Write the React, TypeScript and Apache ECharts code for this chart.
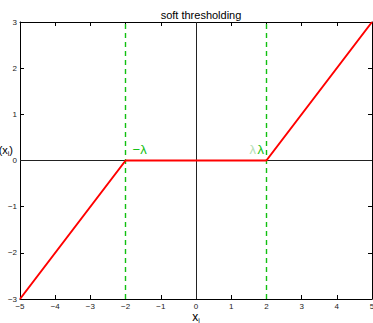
import React, { useEffect, useRef } from "react";
import * as echarts from "echarts";

const xTicks = [-5, -4, -3, -2, -1, 0, 1, 2, 3, 4, 5];
const yTicks = [-3, -2, -1, 0, 1, 2, 3];
const softX = [-5, -2, 2, 5];
const softY = [-3, 0, 0, 3];
const lambdaLines = [-2, 2];
const titleText = "soft thresholding";

const fmt = (v: number) => (v < 0 ? "\u2212" + Math.abs(v) : String(v));

export default function App() {
  const ref = useRef<HTMLDivElement>(null);
  useEffect(() => {
    if (!ref.current) return;
    const chart = echarts.init(ref.current, null, { renderer: "svg" });
    const font = "Liberation Sans, Arial, sans-serif";
    const tickLabel = { fontSize: 8, color: "#222", fontFamily: font };
    const baseX = {
      type: "value" as const,
      min: xTicks[0],
      max: xTicks[xTicks.length - 1],
      interval: 1,
      splitLine: { show: false },
      axisLine: { show: true, onZero: false, lineStyle: { color: "#000", width: 1 } },
      axisTick: { show: true, inside: true, length: 4, lineStyle: { color: "#000" } },
    };
    const baseY = {
      type: "value" as const,
      min: yTicks[0],
      max: yTicks[yTicks.length - 1],
      interval: 1,
      splitLine: { show: false },
      axisLine: { show: true, onZero: false, lineStyle: { color: "#000", width: 1 } },
      axisTick: { show: true, inside: true, length: 4, lineStyle: { color: "#000" } },
    };
    const green = "#10c010";
    const dashStyle = { color: green, width: 1.4, type: [5, 4] as number[] };
    chart.setOption({
      animation: false,
      backgroundColor: "#fff",
      title: {
        text: titleText,
        left: 196,
        textAlign: "center",
        top: 4,
        textStyle: { fontSize: 11, fontWeight: "normal", color: "#000", fontFamily: font },
      },
      grid: { left: 20, right: 1, top: 22, bottom: 24, outerBoundsMode: "none", containLabel: false },
      xAxis: [
        { ...baseX, position: "bottom", axisLabel: { ...tickLabel, margin: 3, formatter: fmt } },
        { ...baseX, position: "top", axisLabel: { show: false } },
      ],
      yAxis: [
        { ...baseY, position: "left", axisLabel: { ...tickLabel, margin: 3, formatter: fmt } },
        { ...baseY, position: "right", axisLabel: { show: false } },
      ],
      series: [
        {
          type: "line",
          data: [],
          silent: true,
          markLine: {
            symbol: "none",
            silent: true,
            label: { show: false },
            lineStyle: { color: "#222", width: 1, type: "solid" },
            data: [{ xAxis: 0 }, { yAxis: 0 }],
          },
        },
        {
          type: "line",
          data: [],
          silent: true,
          markLine: {
            symbol: "none",
            silent: true,
            label: { show: false },
            lineStyle: dashStyle,
            data: lambdaLines.map((v) => ({ xAxis: v, lineStyle: dashStyle })),
          },
        },
        {
          type: "line",
          data: softX.map((x, i) => [x, softY[i]]),
          symbol: "none",
          lineStyle: { color: "#ff0000", width: 2 },
          z: 5,
        },
      ],
    });
    const pNeg = chart.convertToPixel({ gridIndex: 0 }, [lambdaLines[0], 0]) as number[];
    const pPos = chart.convertToPixel({ gridIndex: 0 }, [lambdaLines[1], 0]) as number[];
    const pName = chart.convertToPixel({ gridIndex: 0 }, [xTicks[0], 0]) as number[];
    const pX = chart.convertToPixel({ gridIndex: 0 }, [0, yTicks[0]]) as number[];
    chart.setOption({
      graphic: [
        {
          type: "text",
          x: pNeg[0] + 7,
          y: pNeg[1] - 5,
          style: {
            text: "\u2212\u03bb",
            fontSize: 13,
            fill: green,
            fontFamily: font,
            textVerticalAlign: "bottom",
            textAlign: "left",
          },
        },
        {
          type: "text",
          x: pPos[0] - 9,
          y: pPos[1] - 5,
          style: {
            text: "\u03bb",
            fontSize: 13,
            fill: green,
            fontFamily: font,
            textVerticalAlign: "bottom",
            textAlign: "left",
          },
        },
        {
          type: "text",
          x: pPos[0] - 17,
          y: pPos[1] - 5,
          style: {
            text: "\u03bb",
            fontSize: 13,
            fill: "#b4e0b4",
            fontFamily: font,
            textVerticalAlign: "bottom",
            textAlign: "left",
          },
        },
        {
          type: "text",
          x: pName[0] - 7,
          y: pName[1] - 4,
          style: {
            rich: {
              m: { fontSize: 11, fill: "#000", fontFamily: font },
              s: { fontSize: 7, fill: "#000", fontFamily: font, padding: [6, 0, 0, 0] },
            },
            text: "{m|(x}{s|i}{m|)}",
            textAlign: "right",
            textVerticalAlign: "bottom",
          },
        },
        {
          type: "text",
          x: pX[0],
          y: pX[1] + 11,
          style: {
            rich: {
              m: { fontSize: 12, fill: "#000", fontFamily: font },
              s: { fontSize: 7, fill: "#000", fontFamily: font, padding: [7, 0, 0, 0] },
            },
            text: "{m|x}{s|i}",
            textAlign: "center",
            textVerticalAlign: "top",
          },
        },
      ],
    });
    return () => chart.dispose();
  }, []);
  return (
    <div
      ref={ref}
      style={{ position: "fixed", left: 0, top: 0, width: 373, height: 323 }}
    />
  );
}
